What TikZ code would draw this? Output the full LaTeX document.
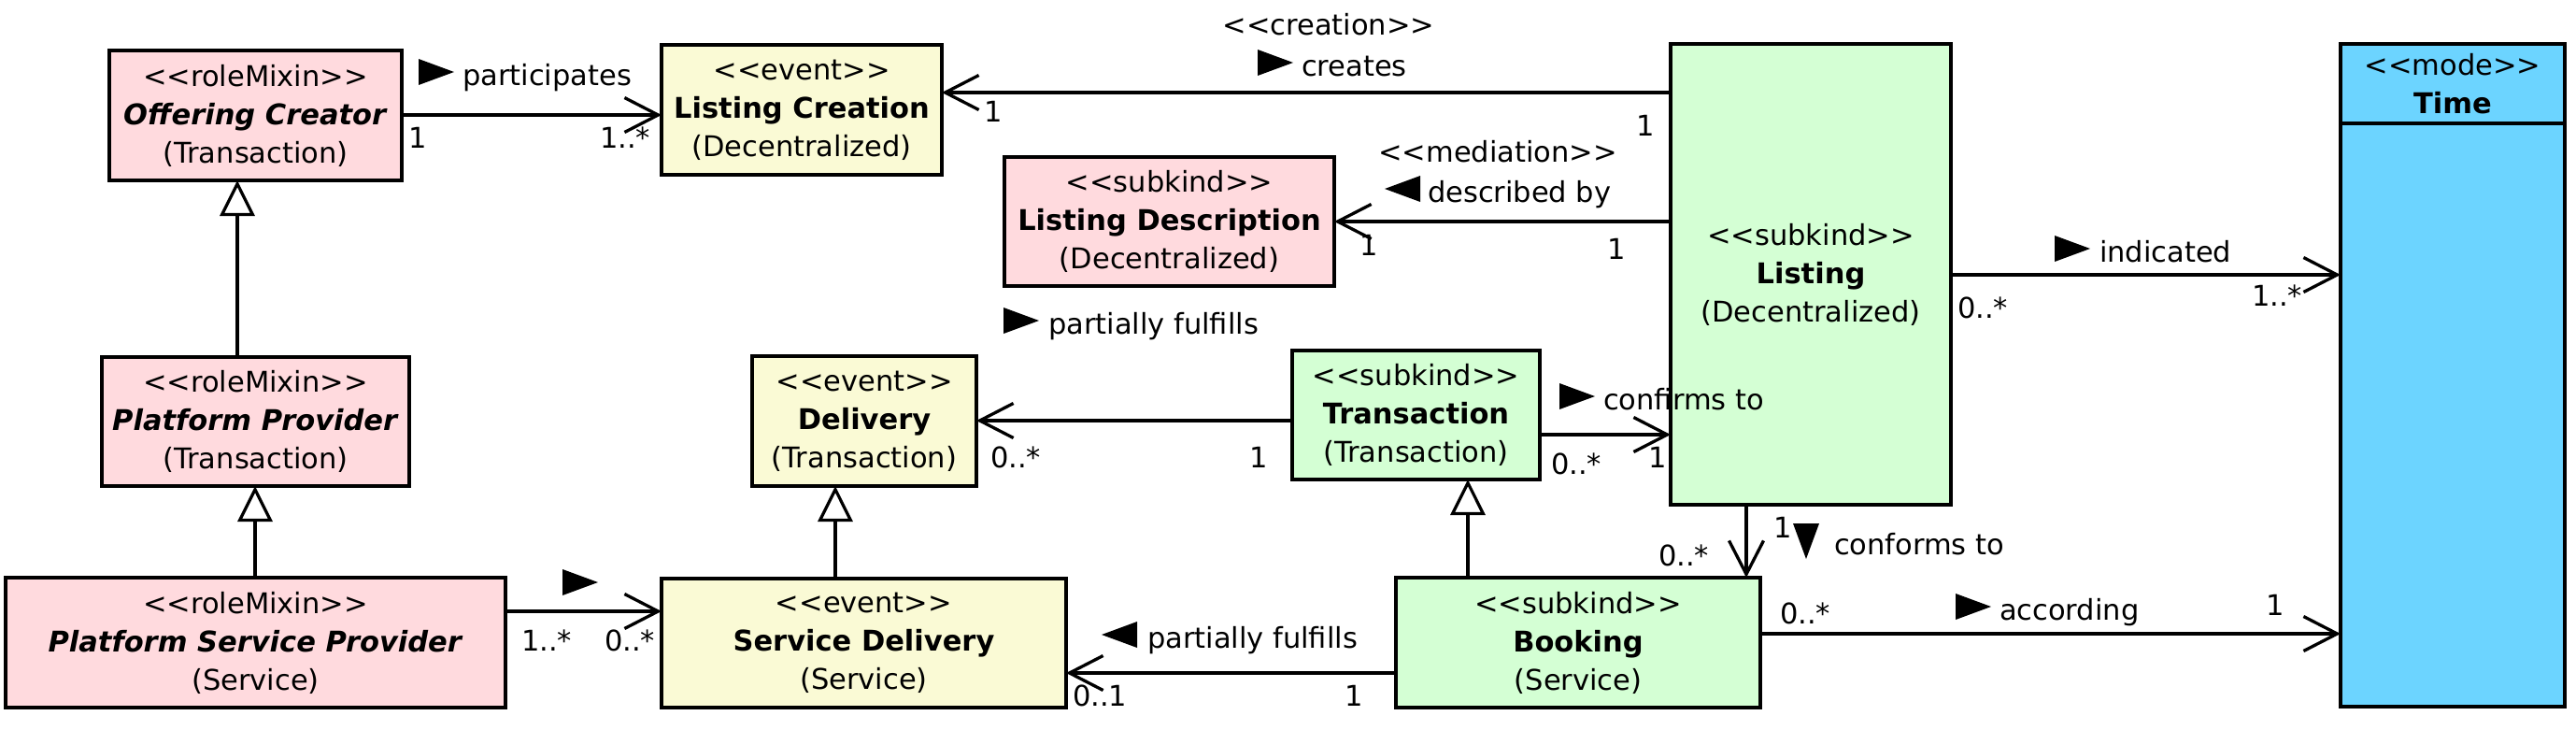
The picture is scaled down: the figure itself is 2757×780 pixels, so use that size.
\documentclass[tikz,border=0pt]{standalone}
\usepackage{fontspec}
\setmainfont{DejaVu Sans}[Ligatures=TeXOff]
\usetikzlibrary{arrows.meta}
\definecolor{cpink}{RGB}{255,218,222}
\definecolor{cyellow}{RGB}{250,250,213}
\definecolor{cgreen}{RGB}{212,255,212}
\definecolor{cblue}{RGB}{108,212,255}
\newcommand\st[1]{<\kern0pt<#1>\kern0pt>}
\newcommand\rtri{\tikz[baseline=0pt]\fill[black] (0pt,0pt)--(0pt,28pt)--(38pt,14pt)--cycle;}
\newcommand\ltri{\tikz[baseline=0pt]\fill[black] (38pt,0pt)--(38pt,28pt)--(0pt,14pt)--cycle;}
\newcommand\dtri{\tikz[baseline=0pt]\fill[black] (0pt,33pt)--(28pt,33pt)--(14pt,-5pt)--cycle;}
\tikzset{
  umlbox/.style={draw=black, line width=3.3pt, rectangle, inner sep=0pt, outer sep=0pt, align=center,
    font=\fontsize{30.5}{41}\selectfont},
  lbl/.style={anchor=base west, inner sep=0pt, outer sep=0pt, font=\fontsize{30.5}{41}\selectfont},
  clbl/.style={anchor=base, inner sep=0pt, outer sep=0pt, font=\fontsize{30.5}{41}\selectfont},
  assoc/.style={line width=3.3pt, -{Straight Barb[length=36pt,width=37pt,line width=3.3pt]}},
  gen/.style={line width=3.2pt, -{Triangle[open,fill=white,length=38pt,width=37pt,line width=3.2pt]}},
}
\begin{document}
\begin{tikzpicture}[x=1pt,y=-1pt]
\useasboundingbox (0,0) rectangle (2757,780);
% boxes
\node[umlbox, fill=cpink, minimum width=313pt, minimum height=139pt] (oc) at (273.5,123.5)
  {\st{roleMixin}\\ \textbf{\textit{Offering Creator}}\\ (Transaction)};
\node[umlbox, fill=cyellow, minimum width=300pt, minimum height=139pt] (lc) at (858,117.5)
  {\st{event}\\ \textbf{Listing Creation}\\ (Decentralized)};
\node[umlbox, fill=cpink, minimum width=353pt, minimum height=138pt] (ld) at (1251.5,237)
  {\st{subkind}\\ \textbf{Listing Description}\\ (Decentralized)};
\node[umlbox, fill=cgreen, minimum width=300pt, minimum height=493pt] (li) at (1938,293.5)
  {\st{subkind}\\ \textbf{Listing}\\ (Decentralized)};
\node[umlbox, fill=cblue, minimum width=240pt, minimum height=709pt] (ti) at (2625,401.5) {};
\node[clbl, align=center, anchor=center] (tih) at (2625,90) {\st{mode}\\ \textbf{Time}};
\coordinate (tl) at (2505,132);
\coordinate (tr) at (2745,132);
\draw[line width=3.3pt] (tl) -- (tr);
\node[umlbox, fill=cpink, minimum width=329pt, minimum height=138pt] (pp) at (273.5,451)
  {\st{roleMixin}\\ \textbf{\textit{Platform Provider}}\\ (Transaction)};
\node[umlbox, fill=cyellow, minimum width=240pt, minimum height=139pt] (de) at (925,450.5)
  {\st{event}\\ \textbf{Delivery}\\ (Transaction)};
\node[umlbox, fill=cgreen, minimum width=265pt, minimum height=138pt] (tx) at (1515.5,444)
  {\st{subkind}\\ \textbf{Transaction}\\ (Transaction)};
\node[umlbox, fill=cpink, minimum width=535pt, minimum height=139pt] (psp) at (273.5,687.5)
  {\st{roleMixin}\\ \textbf{\textit{Platform Service Provider}}\\ (Service)};
\node[umlbox, fill=cyellow, minimum width=433pt, minimum height=138pt] (sd) at (924.5,688)
  {\st{event}\\ \textbf{Service Delivery}\\ (Service)};
\node[umlbox, fill=cgreen, minimum width=390pt, minimum height=139pt] (bk) at (1689,687.5)
  {\st{subkind}\\ \textbf{Booking}\\ (Service)};
% associations
\draw[assoc] (oc.east |- 0,123) -- (lc.west |- 0,123);
\draw[assoc] (li.west |- 0,99) -- (lc.east |- 0,99);
\draw[assoc] (li.west |- 0,237) -- (ld.east |- 0,237);
\draw[assoc] (li.east |- 0,294) -- (ti.west |- 0,294);
\draw[assoc] (tx.west |- 0,450) -- (de.east |- 0,450);
\draw[assoc] (tx.east |- 0,465) -- (li.west |- 0,465);
\draw[assoc] (li.south -| 1869,0) -- (bk.north -| 1869,0);
\draw[assoc] (bk.east |- 0,678) -- (ti.west |- 0,678);
\draw[assoc] (bk.west |- 0,720) -- (sd.east |- 0,720);
\draw[assoc] (psp.east |- 0,654) -- (sd.west |- 0,654);
% generalizations
\draw[gen] (pp.north -| 254,0) -- (oc.south -| 254,0);
\draw[gen] (psp.north -| 273,0) -- (pp.south -| 273,0);
\draw[gen] (sd.north -| 894,0) -- (de.south -| 894,0);
\draw[gen] (bk.north -| 1571,0) -- (tx.south -| 1571,0);
% association labels
\node[lbl] (l1) at (448,91) {\rtri\hspace{9pt}participates};
\node[clbl] (l2a) at (1422,37) {\st{creation}};
\node[lbl] (l2) at (1346,81) {\rtri\hspace{9pt}creates};
\node[clbl] (l3a) at (1603,173) {\st{mediation}};
\node[lbl] (l3) at (1482,216) {\ltri\hspace{8pt}described by};
\node[lbl] (l4) at (2199,280) {\rtri\hspace{10pt}indicated};
\node[lbl] (l5) at (1074,357) {\rtri\hspace{10pt}partially fulfills};
\node[lbl] (l6) at (1669,438) {\rtri\hspace{9pt}confirms to};
\node[lbl] (l7) at (1919,593) {\dtri\hspace{16pt}conforms to};
\node[lbl] (l8) at (2093,663) {\rtri\hspace{9pt}according};
\node[lbl] (l9) at (1179,693) {\ltri\hspace{11pt}partially fulfills};
\node[lbl] (l10) at (602,637) {\rtri};
% multiplicities
\node[lbl] (m1) at (437,158) {1};
\node[lbl] (m2) at (642,158) {1..*};
\node[lbl] (m3) at (1053,130) {1};
\node[lbl] (m4) at (1751,145) {1};
\node[lbl] (m5) at (1455,273) {1};
\node[lbl] (m6) at (1720,277) {1};
\node[lbl] (m7) at (2095,340) {0..*};
\node[lbl] (m8) at (2410,327) {1..*};
\node[lbl] (m9) at (1060,500) {0..*};
\node[lbl] (m10) at (1337,500) {1};
\node[lbl] (m11) at (1660,507) {0..*};
\node[lbl] (m12) at (1764,500) {1};
\node[lbl] (m13) at (1898,575) {1};
\node[lbl] (m14) at (1775,605) {0..*};
\node[lbl] (m15) at (1905,667) {0..*};
\node[lbl] (m16) at (2425,658) {1};
\node[lbl] (m17) at (1148,755) {0..1};
\node[lbl] (m18) at (1439,755) {1};
\node[lbl] (m19) at (558,696) {1..*};
\node[lbl] (m20) at (647,696) {0..*};
\end{tikzpicture}
\end{document}
